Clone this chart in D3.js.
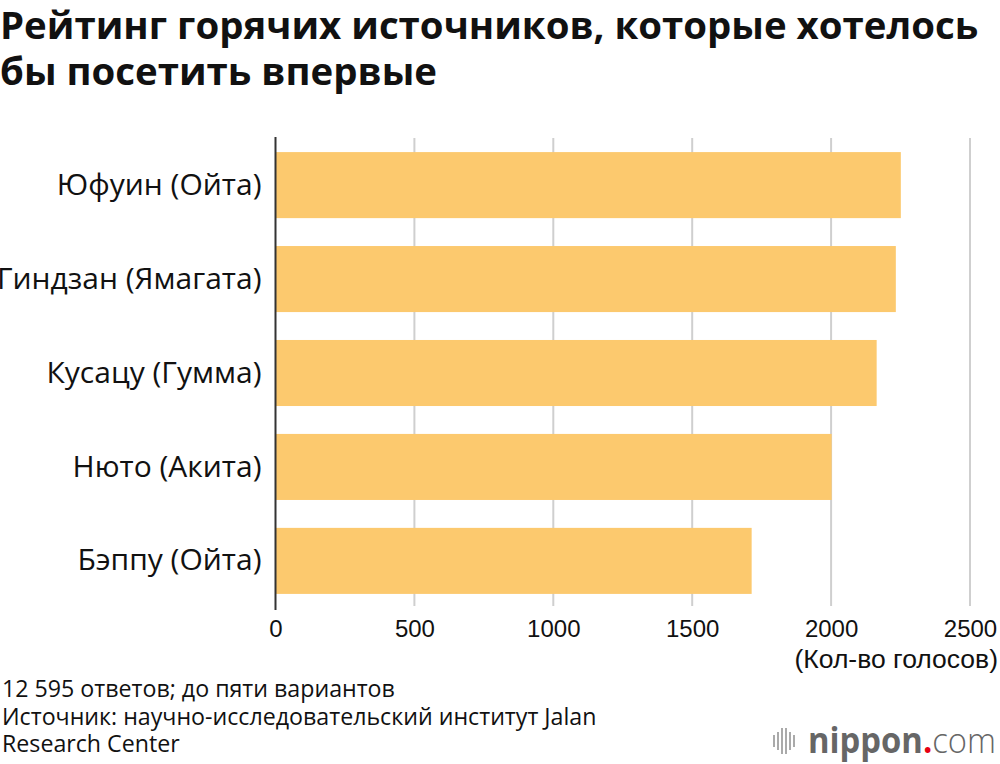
<!DOCTYPE html>
<html>
<head>
<meta charset="utf-8">
<script src="https://cdn.jsdelivr.net/npm/d3@7"></script>
<style>
  body { margin: 0; background: #fff; }
  svg { display: block; font-family: "Open Sans", "Noto Sans", sans-serif; }
</style>
</head>
<body>
<div id="chart"></div>
<script>
// chart data
var categories = ["Юфуин (Ойта)", "Гиндзан (Ямагата)", "Кусацу (Гумма)", "Нюто (Акита)", "Бэппу (Ойта)"];
var votes = [2251, 2233, 2164, 2002, 1714];
var xTicks = [0, 500, 1000, 1500, 2000, 2500];
var titleLines = ["Рейтинг горячих источников, которые хотелось", "бы посетить впервые"];
var footLines = ["12 595 ответов; до пяти вариантов",
                 "Источник: научно-исследовательский институт Jalan",
                 "Research Center"];

var W = 1000, H = 764;

var svg = d3.select("#chart")
    .append("svg")
    .attr("width", W)
    .attr("height", H);

// title
svg.append("g").selectAll("text")
    .data(titleLines)
    .enter()
    .append("text")
    .attr("x", 0)
    .attr("y", function (d, i) { return 39 + i * 46 })
    .style("font-size", "38.4px")
    .style("font-weight", "bold")
    .style("fill", "#111")
    .text(function (d) { return d });

var data = categories.map(function (c, i) { return { name: c, value: votes[i] } });

var x = d3.scaleLinear()
    .domain([0, 2500])
    .range([275.5, 970]);

var y = d3.scaleBand()
    .domain(categories)
    .range([138, 608])
    .paddingInner(0.297)
    .paddingOuter(0.15);

// gridlines
svg.append("g")
    .selectAll("line")
    .data(xTicks.slice(1))
    .enter()
    .append("line")
    .attr("x1", function (d) { return x(d) })
    .attr("x2", function (d) { return x(d) })
    .attr("y1", 138)
    .attr("y2", 606)
    .attr("stroke", "#cfcfcf")
    .attr("stroke-width", 2);

// bars
svg.append("g")
    .selectAll("rect")
    .data(data)
    .enter()
    .append("rect")
    .attr("x", x(0))
    .attr("y", function (d) { return y(d.name) })
    .attr("width", function (d) { return x(d.value) - x(0) })
    .attr("height", y.bandwidth())
    .attr("fill", "#fcc96e");

// x axis labels
var xAxis = svg.append("g")
    .attr("transform", "translate(0,618)")
    .call(d3.axisBottom(x).tickValues(xTicks).tickFormat(d3.format("d")).tickSize(0).tickPadding(0));
xAxis.select(".domain").remove();
xAxis.selectAll("text")
    .attr("dy", "0.8em")
    .style("font-family", "'Liberation Sans', Arial, sans-serif")
    .style("font-size", "24px")
    .style("fill", "#111");

svg.append("text")
    .attr("text-anchor", "end")
    .attr("x", 998)
    .attr("y", 668)
    .style("font-family", "'Liberation Sans', Arial, sans-serif")
    .style("font-size", "26.5px")
    .style("fill", "#111")
    .text("(Кол-во голосов)");

// y axis
var yAxis = svg.append("g")
    .attr("transform", "translate(" + x(0) + ",0)")
    .call(d3.axisLeft(y).tickSize(0).tickPadding(14));
yAxis.select(".domain").remove();
yAxis.selectAll("text")
    .style("font-family", "'Open Sans', 'Noto Sans', sans-serif")
    .style("font-size", "30px")
    .style("fill", "#111");

svg.append("line")
    .attr("x1", x(0))
    .attr("x2", x(0))
    .attr("y1", 137)
    .attr("y2", 610)
    .attr("stroke", "#333")
    .attr("stroke-width", 2);

// footer notes
svg.append("g").selectAll("text")
    .data(footLines)
    .enter()
    .append("text")
    .attr("x", 2)
    .attr("y", function (d, i) { return 697 + i * 27.5 })
    .style("font-size", "23.2px")
    .style("fill", "#111")
    .text(function (d) { return d });

// nippon.com logo
var logo = svg.append("g").attr("transform", "translate(774,753)");
[0, 4, 8, 12, 16, 20].forEach(function (dx, i) {
    var h = [12, 18, 26, 26, 18, 12][i];
    logo.append("line")
        .attr("x1", dx).attr("x2", dx)
        .attr("y1", -12 - h / 2).attr("y2", -12 + h / 2)
        .attr("stroke", "#aaa")
        .attr("stroke-width", 2);
});
var lt = logo.append("text")
    .attr("x", 34)
    .attr("y", 0)
    .attr("textLength", 188)
    .attr("lengthAdjust", "spacingAndGlyphs")
    .style("font-size", "35px")
    .style("fill", "#666");
lt.append("tspan").style("font-weight", "bold").text("nippon");
lt.append("tspan").style("fill", "#e60012").style("font-weight", "bold").text(".");
lt.append("tspan").style("font-weight", "300").text("com");
</script>
</body>
</html>
